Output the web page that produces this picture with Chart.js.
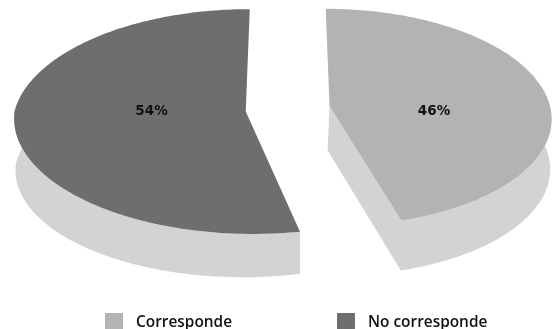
<!DOCTYPE html>
<html>
<head>
<meta charset="utf-8">
<title>Corresponde / No corresponde</title>
<script src="https://cdn.jsdelivr.net/npm/chart.js@4/dist/chart.umd.js"></script>
<style>
  html, body { margin: 0; padding: 0; background: #fff; overflow: hidden; }
  canvas { display: block; }
</style>
</head>
<body>
<canvas id="chart" width="552" height="329"></canvas>
<script>
const categories = ['Corresponde', 'No corresponde'];
const shares = [46, 54];
const topColors = ['#b1b3b5', '#6d6e70'];
const sideColor = '#d1d3d4';

// tilted disc: plan coordinates are unit-radius, far edge pulled in by the k term
const view = { cx: 287.75, cy: 108.8, rx: 232.5, ry: 113.5, k: 0.107, explode: 0.1817 };
const sliceScale = [0.95, 0.992];
const sliceDepth = [50, 42];
const labelSpots = [[434, 111], [151.5, 111]];
const DEG = Math.PI / 180;
// how far the near end of each cut edge leans, perspective makes the two differ
const cutLean = [-1.6 * DEG, 0.9 * DEG];

function project(u, v) {
  const w = 1 + view.k * v;
  return [view.cx + view.rx * u / w, view.cy - view.ry * v / w];
}

// near-left part of the rim reads flatter than a true circle
function rimPull(index, a) {
  if (index !== 1 || a < 150 * DEG || a > 270 * DEG) return 1;
  return 1 - 0.042 * Math.sin((a - 150 * DEG) * 1.5);
}

// wall gets taller towards the far-left end of the big slice
function wallDepth(index, a) {
  if (index !== 1) return sliceDepth[index];
  return sliceDepth[index] + 10 * Math.max(0, (a - 165 * DEG) / (105 * DEG));
}

// Arc element that paints a slice as an extruded wedge instead of a flat one
class Arc3d extends Chart.ArcElement {
  static id = 'arc3d';

  draw(ctx) {
    const { startAngle, endAngle } = this.getProps(['startAngle', 'endAngle']);
    const index = this.$context.dataIndex;

    // chart.js angles start at 3 o'clock, the plan ones at 12
    const from = startAngle + Math.PI / 2;
    const to = endAngle + Math.PI / 2;
    const mid = (from + to) / 2;
    const tipU = view.explode * Math.sin(mid);
    const tipV = view.explode * Math.cos(mid);
    const tip = project(tipU, tipV);

    const rim = [];
    const steps = 160;
    for (let i = 0; i <= steps; i++) {
      const f = i / steps;
      const base = from + (to - from) * f;
      // lean fades out towards the far end of the slice
      const a = base + cutLean[index] * (index === 0 ? f : 1 - f);
      const r = sliceScale[index] * rimPull(index, a);
      rim.push({ a, p: project(tipU + r * Math.sin(a), tipV + r * Math.cos(a)) });
    }

    // side wall only where it faces the viewer
    const near = rim.filter(pt => Math.cos(pt.a) < 0.2);
    const wall = near.map(pt => pt.p);
    const bottom = near.map(pt => [
      view.cx + (pt.p[0] - view.cx) * 0.995,
      pt.p[1] + wallDepth(index, pt.a)
    ]).reverse();
    if (index === 0) {
      wall.push(tip);
      bottom.unshift([tip[0] - 2, tip[1] + 44]);
    }

    ctx.save();
    ctx.fillStyle = sideColor;
    ctx.beginPath();
    wall.concat(bottom).forEach((p, i) => {
      if (i === 0) ctx.moveTo(p[0], p[1]);
      else ctx.lineTo(p[0], p[1]);
    });
    ctx.closePath();
    ctx.fill();

    // top face
    ctx.fillStyle = this.options.backgroundColor;
    ctx.beginPath();
    ctx.moveTo(tip[0], tip[1]);
    rim.forEach(pt => ctx.lineTo(pt.p[0], pt.p[1]));
    ctx.closePath();
    ctx.fill();
    ctx.restore();
  }
}

class Pie3dController extends Chart.PieController {
  static id = 'pie3d';
  static defaults = { dataElementType: 'arc3d' };
}

Chart.register(Arc3d, Pie3dController);

const sliceLabels = {
  id: 'sliceLabels',
  afterDatasetsDraw(chart) {
    const ctx = chart.ctx;
    ctx.save();
    ctx.font = '700 13.5px "DejaVu Sans"';
    ctx.fillStyle = '#111';
    ctx.textAlign = 'center';
    ctx.textBaseline = 'middle';
    shares.forEach((value, i) => {
      ctx.fillText(value + '%', labelSpots[i][0], labelSpots[i][1]);
    });
    ctx.restore();
  }
};

// legend row sits lower and wider than the built-in legend allows
const legendRow = {
  id: 'legendRow',
  afterDraw(chart) {
    const ctx = chart.ctx;
    const boxes = [105, 337];
    ctx.save();
    ctx.font = '600 15.4px "Open Sans"';
    ctx.textBaseline = 'alphabetic';
    categories.forEach((name, i) => {
      ctx.fillStyle = topColors[i];
      ctx.fillRect(boxes[i], 313, 18, 18);
      ctx.fillStyle = '#111';
      ctx.fillText(name, boxes[i] + 31, 327);
    });
    ctx.restore();
  }
};

new Chart(document.getElementById('chart'), {
  type: 'pie3d',
  data: {
    labels: categories,
    datasets: [{
      data: shares,
      backgroundColor: topColors,
      borderWidth: 0,
      clip: false
    }]
  },
  options: {
    responsive: false,
    animation: false,
    plugins: {
      legend: { display: false },
      tooltip: { enabled: false }
    }
  },
  plugins: [sliceLabels, legendRow]
});
</script>
</body>
</html>
